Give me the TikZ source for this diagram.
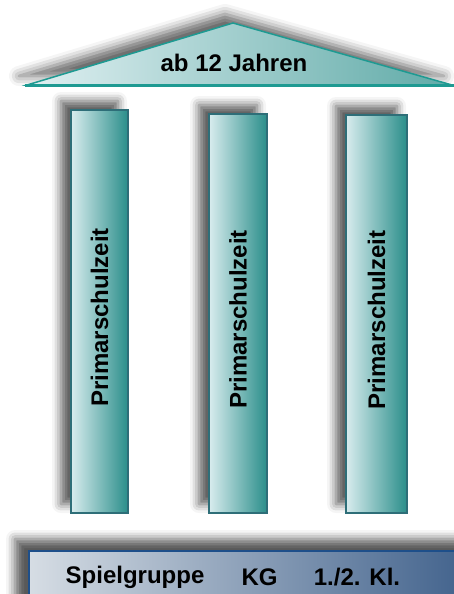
\documentclass[tikz,border=0pt]{standalone}
\usepackage{fontspec}
\setmainfont{Liberation Sans}
\usetikzlibrary{shadows,shadows.blur}
\usetikzlibrary{positioning}
\usetikzlibrary{calc}

\definecolor{tealdark}{HTML}{2A8E8A}
\definecolor{teallight}{HTML}{D8ECEE}
\definecolor{tealline}{HTML}{2E6E78}
\definecolor{roofline}{HTML}{1E9A92}
\definecolor{bluedark}{HTML}{3A5C88}
\definecolor{bluelight}{HTML}{D6DDE4}
\definecolor{blueline}{HTML}{1E4F8A}

\tikzset{
  pillar/.style={draw=tealline, line width=2pt, left color=teallight, right color=tealdark,
    inner sep=0pt, blur shadow={shadow xshift=-10pt, shadow yshift=9pt, shadow blur radius=9pt, shadow opacity=65}},
  roofpart/.style={draw=roofline, line width=1.5pt, left color=teallight!80!white, right color=tealdark!75,
    blur shadow={shadow xshift=-8pt, shadow yshift=9pt, shadow blur radius=10pt, shadow opacity=60}},
  basebar/.style={draw=blueline, line width=2pt, left color=bluelight, right color=bluedark,
    blur shadow={shadow xshift=-14pt, shadow yshift=12pt, shadow blur radius=9pt, shadow opacity=65}},
  lbl/.style={font=\fontsize{24}{24}\selectfont\bfseries, inner sep=0pt}
}

\begin{document}
\begin{tikzpicture}[x=1pt, y=-1pt]
  \useasboundingbox (0,0) rectangle (454,594);

  % roof
  \draw[roofpart] (27,85) -- (233,23) -- (452,85) -- cycle;
  \draw[roofline, line width=3pt] (25,85) -- (454,85);
  \node[lbl] (roof) at (234,63) {ab 12 Jahren};

  % columns
  \def\ybot{513};
  \foreach \i/\cx/\ytop/\w in {1/99.5/110/57, 2/238/114/58, 3/376.5/115/61} {
    \node[pillar, minimum width=\w pt, minimum height={(\ybot-\ytop)*1pt}] (col\i) at (\cx, {(\ybot+\ytop)/2}) {};
    \node[lbl, rotate=90] (txt\i) at ($(col\i.center)+(0,6)$) {Primarschulzeit};
  }

  % base
  \node[basebar, anchor=north west, minimum width=460pt, minimum height=70pt] (base) at (28,550) {};
  \node[lbl] (spiel) at (135,577) {Spielgruppe};
  \node[lbl] (kg) at (259.5,577) {KG};
  \node[lbl] (kl) at (357,577) {1./2. Kl.};

\end{tikzpicture}
\end{document}
